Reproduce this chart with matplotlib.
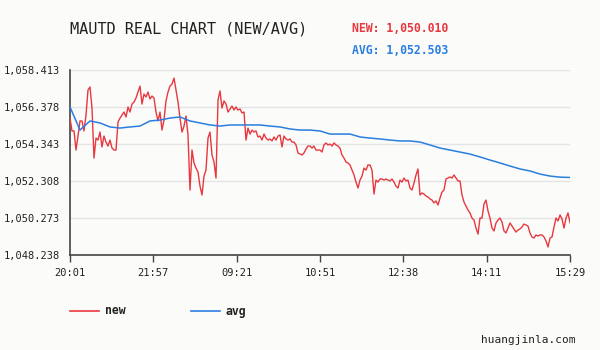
import numpy as np
import matplotlib.pyplot as plt
from matplotlib.lines import Line2D

# tick labels and range
x_labels = ['20:01', '21:57', '09:21', '10:51', '12:38', '14:11', '15:29']
y_ticks = [1048.238, 1050.273, 1052.308, 1054.343, 1056.378, 1058.413]

# last readings
new_last = 1050.010
avg_last = 1052.503

# "new" price, one sample per step
new_vals = [
    1055.77, 1055.06, 1055.06, 1054.01, 1054.78, 1055.61, 1055.61, 1055.06, 1055.94, 1057.31,
    1057.48, 1056.32, 1053.57, 1054.67, 1054.56, 1055.00, 1054.18, 1054.78, 1054.45, 1054.23,
    1054.56, 1054.12, 1054.01, 1054.01, 1055.55, 1055.77, 1055.94, 1056.10, 1055.83, 1056.38,
    1056.10, 1056.54, 1056.65, 1056.87, 1057.20, 1057.53, 1056.54, 1057.09, 1056.93, 1057.20,
    1056.82, 1056.98, 1056.87, 1056.10, 1055.61, 1056.10, 1055.11, 1055.66, 1056.71, 1057.20,
    1057.53, 1057.64, 1057.97, 1057.31, 1056.65, 1055.77, 1055.00, 1055.33, 1055.88, 1054.84,
    1051.81, 1054.01, 1053.30, 1053.02, 1052.80, 1052.03, 1051.54, 1052.58, 1052.91, 1054.67,
    1055.00, 1053.74, 1053.35, 1052.47, 1056.76, 1057.26, 1056.32, 1056.71, 1056.54, 1056.10,
    1056.27, 1056.43, 1056.21, 1056.38, 1056.21, 1056.27, 1056.05, 1056.10, 1054.56, 1055.22,
    1054.89, 1055.11, 1055.00, 1055.06, 1054.73, 1054.78, 1054.56, 1054.89, 1054.67, 1054.56,
    1054.62, 1054.51, 1054.73, 1054.56, 1054.78, 1054.84, 1054.18, 1054.78, 1054.62, 1054.56,
    1054.62, 1054.45, 1054.45, 1054.29, 1053.85, 1053.79, 1053.74, 1053.85, 1054.07, 1054.23,
    1054.23, 1054.12, 1054.23, 1054.01, 1054.01, 1054.01, 1053.90, 1054.29, 1054.40, 1054.29,
    1054.34, 1054.23, 1054.40, 1054.29, 1054.23, 1054.12, 1053.74, 1053.57, 1053.35, 1053.30,
    1053.19, 1052.91, 1052.64, 1052.25, 1051.92, 1052.36, 1052.58, 1053.02, 1052.91, 1053.19,
    1053.19, 1052.91, 1051.59, 1052.36, 1052.25, 1052.42, 1052.42, 1052.36, 1052.42, 1052.36,
    1052.31, 1052.42, 1052.25, 1052.03, 1051.92, 1052.36, 1052.25, 1052.47, 1052.31, 1052.36,
    1051.92, 1051.81, 1052.20, 1052.64, 1052.97, 1051.54, 1051.65, 1051.59, 1051.48, 1051.43,
    1051.32, 1051.26, 1051.10, 1051.21, 1050.99, 1051.37, 1051.70, 1051.81, 1052.42, 1052.47,
    1052.53, 1052.47, 1052.64, 1052.47, 1052.31, 1052.31, 1051.54, 1051.15, 1050.93, 1050.71,
    1050.55, 1050.27, 1050.16, 1049.72, 1049.39, 1050.27, 1050.27, 1051.04, 1051.26, 1050.66,
    1050.27, 1049.72, 1049.56, 1050.00, 1050.16, 1050.27, 1050.05, 1049.56, 1049.45, 1049.72,
    1050.00, 1049.83, 1049.67, 1049.50, 1049.61, 1049.67, 1049.78, 1049.94, 1049.89, 1049.83,
    1049.45, 1049.23, 1049.17, 1049.34, 1049.28, 1049.34, 1049.34, 1049.23, 1049.01, 1048.68,
    1049.17, 1049.23, 1049.78, 1050.27, 1050.11, 1050.44, 1050.22, 1049.72, 1050.27, 1050.55,
    new_last,
]

# running average, every 5th sample
avg_vals = [
    1056.38, 1055.11, 1055.61, 1055.50, 1055.28, 1055.22, 1055.28, 1055.33, 1055.61, 1055.66,
    1055.77, 1055.83, 1055.61, 1055.50, 1055.39, 1055.33, 1055.39, 1055.39, 1055.39, 1055.39,
    1055.33, 1055.28, 1055.17, 1055.11, 1055.11, 1055.06, 1054.89, 1054.89, 1054.89, 1054.73,
    1054.67, 1054.62, 1054.56, 1054.51, 1054.51, 1054.45, 1054.29, 1054.12, 1054.01, 1053.90,
    1053.79, 1053.63, 1053.46, 1053.30, 1053.13, 1052.97, 1052.86, 1052.69, 1052.58, 1052.52,
    avg_last,
]

RED = '#e8383f'
BLUE = '#2b7de0'
BG = '#fbfcf9'
MONO = 'DejaVu Sans Mono'

n = len(new_vals) - 1
x_new = np.arange(len(new_vals))
x_avg = np.arange(len(avg_vals)) * 5

fig = plt.figure(figsize=(6, 3.5), dpi=100, facecolor=BG)
ax = fig.add_axes([70 / 600, 1 - 255 / 350, 500 / 600, 185 / 350], facecolor=BG)

ax.plot(x_new, new_vals, color=RED, lw=1.0, zorder=3)
ax.plot(x_avg, avg_vals, color=BLUE, lw=1.1, zorder=3)

ax.set_xlim(0, n)
ax.set_ylim(y_ticks[0], y_ticks[-1])
ax.set_yticks(y_ticks)
ax.set_yticklabels([f'{v:,.3f}' for v in y_ticks], family=MONO, fontsize=7.5, color='#222222')
ax.set_xticks(np.linspace(0, n, len(x_labels)))
ax.set_xticklabels(x_labels, family=MONO, fontsize=7.5, color='#222222')
ax.grid(axis='y', color='#e4e4e6', lw=1)
ax.set_axisbelow(True)
ax.tick_params(axis='y', length=0, pad=7)
ax.tick_params(axis='x', length=5, width=1, color='#444444', pad=4)
for s in ['top', 'right']:
    ax.spines[s].set_visible(False)
for s in ['left', 'bottom']:
    ax.spines[s].set_color('#444444')
    ax.spines[s].set_linewidth(1.2)

# header
fig.text(70 / 600, 1 - 29 / 350, 'MAUTD REAL CHART (NEW/AVG)', family=MONO,
         fontsize=11, color='#222222', va='center', ha='left')
fig.text(352 / 600, 1 - 29 / 350, f'NEW: {new_last:,.3f}', family=MONO,
         fontsize=8.3, fontweight='bold', color=RED, va='center', ha='left')
fig.text(352 / 600, 1 - 50 / 350, f'AVG: {avg_last:,.3f}', family=MONO,
         fontsize=8.3, fontweight='bold', color=BLUE, va='center', ha='left')

# legend below the plot
ly = 1 - 311 / 350
fig.add_artist(Line2D([70 / 600, 99 / 600], [ly, ly], color=RED, lw=1.2))
fig.text(105 / 600, ly, 'new', family=MONO, fontsize=8.3, fontweight='bold',
         color='#222222', va='center', ha='left')
fig.add_artist(Line2D([191 / 600, 220 / 600], [ly, ly], color=BLUE, lw=1.2))
fig.text(226 / 600, ly, 'avg', family=MONO, fontsize=8.3, fontweight='bold',
         color='#222222', va='center', ha='left')

fig.text(576 / 600, 1 - 340 / 350, 'huangjinla.com', family=MONO, fontsize=8,
         color='#222222', va='center', ha='right')

fig.savefig('out.png', dpi=100, facecolor=BG)
